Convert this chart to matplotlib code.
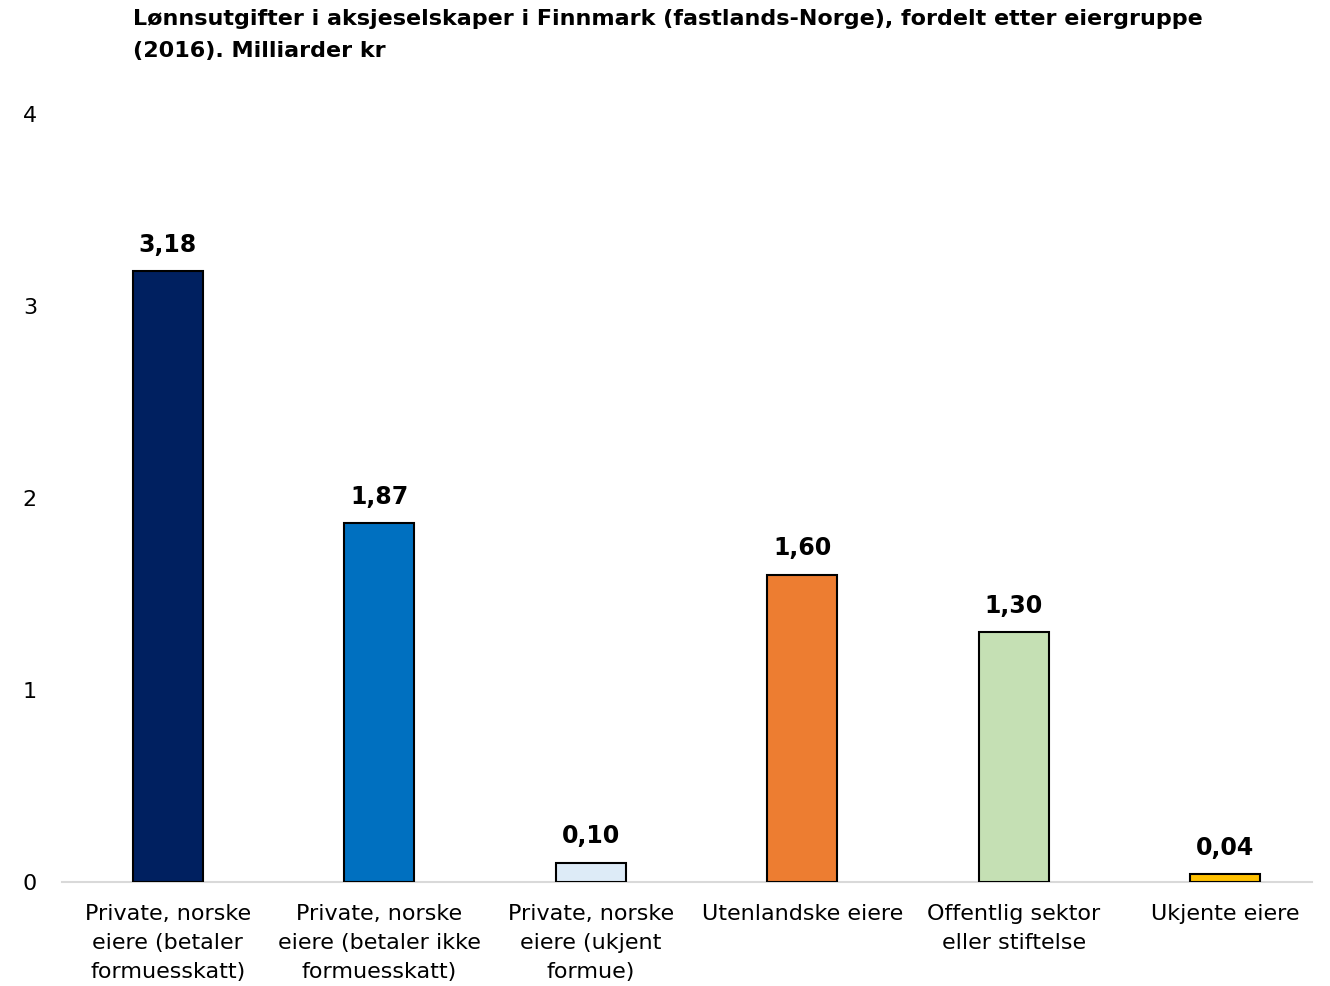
import matplotlib
matplotlib.use('Agg')
import matplotlib.pyplot as plt

# Data
categories = [
    'Private, norske\neiere (betaler\nformuesskatt)',
    'Private, norske\neiere (betaler ikke\nformuesskatt)',
    'Private, norske\neiere (ukjent\nformue)',
    'Utenlandske eiere',
    'Offentlig sektor\neller stiftelse',
    'Ukjente eiere',
]
values = [3.18, 1.87, 0.10, 1.60, 1.30, 0.04]
bar_colors = ['#002060', '#0070C0', '#DDEBF7', '#ED7D31', '#C5E0B4', '#FFC000']
yticks = [0, 1, 2, 3, 4]

title = ('Lønnsutgifter i aksjeselskaper i Finnmark (fastlands-Norge), fordelt etter eiergruppe\n'
         '(2016). Milliarder kr')

plt.rcParams['font.family'] = ['DejaVu Sans']

fig = plt.figure(figsize=(13.3, 9.86), dpi=100)
ax = fig.add_axes([0.0466, 0.1055, 0.9399, 0.7789])

x = list(range(len(values)))
ax.bar(x, values, width=0.33, color=bar_colors, edgecolor='black', linewidth=1.5, zorder=3)

for xi, v in zip(x, values):
    ax.text(xi, v + 0.075, f'{v:.2f}'.replace('.', ','), ha='center', va='bottom',
            fontsize=17, fontweight='bold', color='black')

ax.set_xlim(-0.5, 5.41)
ax.set_ylim(0, 4)
ax.set_yticks(yticks)
ax.set_yticklabels([str(t) for t in yticks], fontsize=16)
ax.set_xticks(x)
ax.set_xticklabels(categories, fontsize=16, linespacing=1.55)
ax.tick_params(axis='y', length=0, pad=18)
ax.tick_params(axis='x', length=0, pad=16)

for side in ['left', 'right', 'top']:
    ax.spines[side].set_visible(False)
ax.spines['bottom'].set_color('#D9D9D9')
ax.spines['bottom'].set_linewidth(1.5)

fig.text(0.1, 0.991, title, ha='left', va='top', fontsize=16, fontweight='bold',
         linespacing=1.75)

fig.savefig('out.png', dpi=100)
